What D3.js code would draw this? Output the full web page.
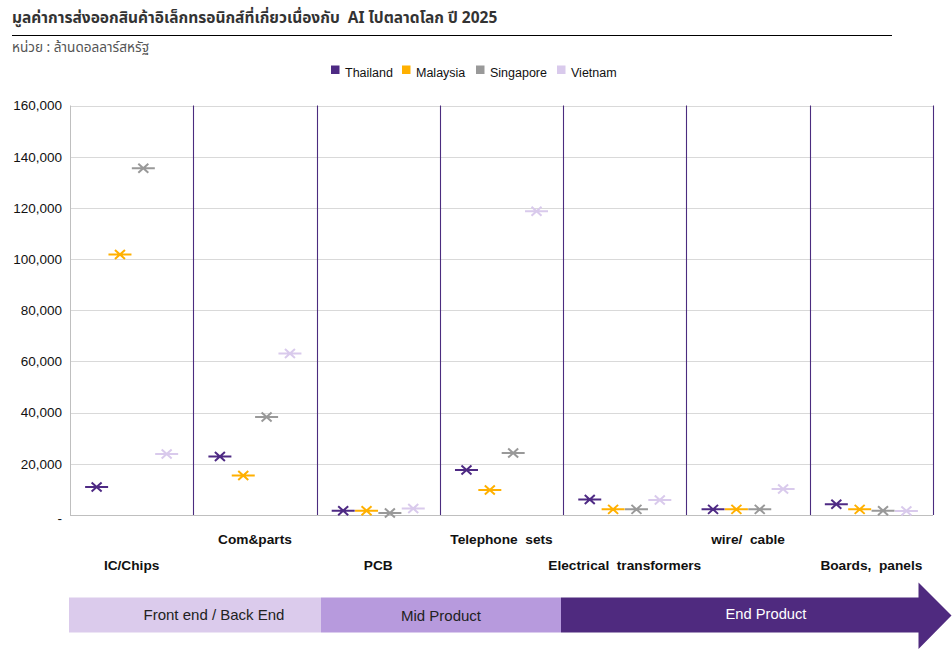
<!DOCTYPE html>
<html>
<head>
<meta charset="utf-8">
<script src="https://cdn.jsdelivr.net/npm/d3@7"></script>
<style>
  html, body { margin: 0; padding: 0; background: #fff; }
  svg { display: block; font-family: "Liberation Sans", Arial, "Noto Sans", sans-serif; }
</style>
</head>
<body>
<svg id="chart" width="952" height="649"></svg>
<script>
// ---------------- DATA ----------------
const categories = ["IC/Chips", "Com&parts", "PCB", "Telephone  sets", "Electrical  transformers", "wire/  cable", "Boards,  panels"];
const seriesNames = ["Thailand", "Malaysia", "Singapore", "Vietnam"];
const thailand  = [10900, 22900, 1700, 17600, 6100, 2200, 4200];
const malaysia  = [101800, 15400, 1700, 9800, 2200, 2200, 2200];
const singapore = [135500, 38300, 800, 24200, 2200, 2200, 1700];
const vietnam   = [23800, 63100, 2500, 118700, 5900, 10200, 1600];
const yTicks = [0, 20000, 40000, 60000, 80000, 100000, 120000, 140000, 160000];
const stageLabels = ["Front end / Back End", "Mid Product", "End Product"];

const title = "มูลค่าการส่งออกสินค้าอิเล็กทรอนิกส์ที่เกี่ยวเนื่องกับ  AI ไปตลาดโลก ปี 2025";
const subtitle = "หน่วย : ล้านดอลลาร์สหรัฐ";

const colors = { Thailand: "#4E2A84", Malaysia: "#FFB000", Singapore: "#999999", Vietnam: "#D9CAEC" };
const seriesValues = { Thailand: thailand, Malaysia: malaysia, Singapore: singapore, Vietnam: vietnam };

// ---------------- LAYOUT ----------------
const svg = d3.select("#chart");
const plot = { left: 70, right: 933, top: 105.5, bottom: 515 };

const x = d3.scaleBand().domain(categories).range([plot.left, plot.right]).padding(0);
const xs = d3.scaleBand().domain(seriesNames).range([0, x.bandwidth()]).paddingInner(0).paddingOuter(0.64);
const y = d3.scaleLinear().domain([0, 160000]).range([plot.bottom, plot.top]);

// Title
svg.append("text").attr("x", 12).attr("y", 23)
  .attr("font-size", 15.5).attr("font-weight", "bold").attr("fill", "#333")
  .attr("font-family", "'Noto Sans Thai', 'Liberation Sans', Tahoma, sans-serif")
  .attr("xml:space", "preserve").style("white-space", "pre")
  .text(title);
svg.append("line").attr("x1", 12).attr("x2", 892).attr("y1", 35.5).attr("y2", 35.5)
  .attr("stroke", "#000").attr("stroke-width", 1);
svg.append("text").attr("x", 12).attr("y", 52)
  .attr("font-size", 13.6).attr("fill", "#555")
  .attr("font-family", "'Noto Sans Thai', 'Liberation Sans', Tahoma, sans-serif")
  .text(subtitle);

// Legend
const legendX = [331, 402, 476, 557];
const lg = svg.append("g");
seriesNames.forEach((s, i) => {
  lg.append("rect").attr("x", legendX[i]).attr("y", 65.5).attr("width", 8.5).attr("height", 8.5).attr("fill", colors[s]);
  lg.append("text").attr("x", legendX[i] + 14).attr("y", 76.5).attr("font-size", 12.5).attr("fill", "#111").text(s);
});

// Gridlines
svg.append("g").selectAll("line").data(yTicks.filter(d => d > 0)).join("line")
  .attr("x1", plot.left).attr("x2", plot.right)
  .attr("y1", d => Math.round(y(d)) + 0.5).attr("y2", d => Math.round(y(d)) + 0.5)
  .attr("stroke", "#d9d9d9").attr("stroke-width", 1);

// Y axis
const yAxis = d3.axisLeft(y).tickValues(yTicks).tickSize(0).tickPadding(8)
  .tickFormat(d => d === 0 ? "-" : d3.format(",")(d));
const yg = svg.append("g").attr("transform", `translate(${plot.left},0)`).call(yAxis);
yg.select(".domain").attr("stroke", "#bfbfbf").attr("d", `M0.5,${plot.top}V${plot.bottom}`);
yg.selectAll("text").attr("font-size", 13.5).attr("fill", "#111").attr("font-family", "'Liberation Sans', Arial, sans-serif")
  .attr("dy", d => d === 0 ? "0.55em" : "0.32em");

// Baseline
svg.append("line").attr("x1", plot.left).attr("x2", plot.right)
  .attr("y1", Math.round(y(0)) + 0.5).attr("y2", Math.round(y(0)) + 0.5)
  .attr("stroke", "#bfbfbf");

// Category dividers (purple)
svg.append("g").selectAll("line").data(categories).join("line")
  .attr("x1", d => Math.round(x(d) + x.bandwidth()) + 0.5)
  .attr("x2", d => Math.round(x(d) + x.bandwidth()) + 0.5)
  .attr("y1", plot.top).attr("y2", plot.bottom)
  .attr("stroke", "#4B2C7F").attr("stroke-width", 1.1);

// Category labels (alternating rows)
svg.append("g").selectAll("text").data(categories).join("text")
  .attr("x", d => x(d) + x.bandwidth() / 2)
  .attr("y", (d, i) => i % 2 === 0 ? 570 : 544)
  .attr("text-anchor", "middle").attr("font-size", 13.7).attr("font-weight", "bold").attr("fill", "#111")
  .attr("xml:space", "preserve").style("white-space", "pre")
  .text(d => d);

// Markers: Excel-style star (x + horizontal bar)
const mk = svg.append("g");
seriesNames.forEach(s => {
  const g = mk.append("g").attr("stroke", colors[s]).attr("stroke-width", 2).attr("fill", "none");
  const pts = categories.map((c, i) => ({ cx: x(c) + xs(s) + xs.bandwidth() / 2, cy: y(seriesValues[s][i]) }));
  g.selectAll("path").data(pts).join("path")
    .attr("d", p => `M${p.cx - 11.5},${p.cy}H${p.cx + 11.5}M${p.cx - 5},${p.cy - 4.5}L${p.cx + 5},${p.cy + 4.5}M${p.cx - 5},${p.cy + 4.5}L${p.cx + 5},${p.cy - 4.5}`);
});

// Bottom stage arrow
const bar = { y0: 597.5, y1: 632.5 };
svg.append("rect").attr("x", 69).attr("y", bar.y0).attr("width", 321 - 69).attr("height", bar.y1 - bar.y0).attr("fill", "#DBCBEC");
svg.append("rect").attr("x", 321).attr("y", bar.y0).attr("width", 561 - 321).attr("height", bar.y1 - bar.y0).attr("fill", "#B79ADD");
svg.append("path").attr("fill", "#4F2A7F")
  .attr("d", `M561,${bar.y0}H918.5V582.5L951.5,615.5L918.5,649V${bar.y1}H561Z`);
svg.append("text").attr("x", 214).attr("y", 620).attr("text-anchor", "middle").attr("font-size", 15).attr("fill", "#222").text(stageLabels[0]);
svg.append("text").attr("x", 441).attr("y", 621).attr("text-anchor", "middle").attr("font-size", 15).attr("fill", "#222").text(stageLabels[1]);
svg.append("text").attr("x", 766).attr("y", 619).attr("text-anchor", "middle").attr("font-size", 14.7).attr("fill", "#fff").text(stageLabels[2]);
</script>
</body>
</html>
